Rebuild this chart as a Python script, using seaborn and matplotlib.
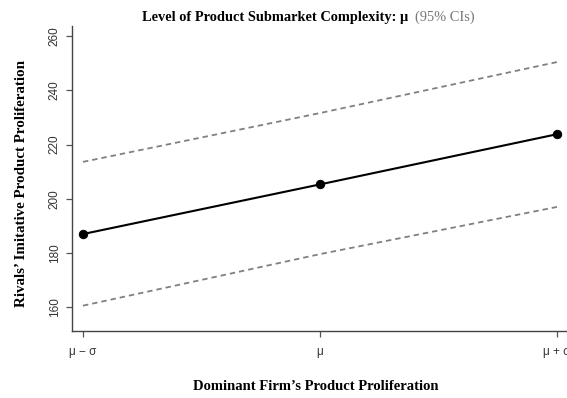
import matplotlib
matplotlib.use("Agg")
import matplotlib.pyplot as plt
import seaborn as sns
import pandas as pd

# Data
x_pos = [1, 2, 3]
x_labels = ["μ − σ", "μ", "μ + σ"]
mean_vals = [187.0, 205.3, 223.8]
upper_vals = [213.6, 231.6, 250.4]
lower_vals = [160.6, 179.6, 197.0]
y_ticks = [160, 180, 200, 220, 240, 260]

sns.set_theme(style="white")
plt.rcParams['font.family'] = ['Liberation Sans', 'DejaVu Sans']

fig = plt.figure(figsize=(5.67, 3.98), dpi=100)
ax = fig.add_axes([72/567, 67/398, (568-72)/567, (331-26)/398])

df = pd.DataFrame({"x": x_pos, "mean": mean_vals, "upper": upper_vals, "lower": lower_vals})

sns.lineplot(data=df, x="x", y="upper", ax=ax, color="#808080", lw=1.3,
             linestyle=(0, (3, 2.2)))
sns.lineplot(data=df, x="x", y="lower", ax=ax, color="#808080", lw=1.3,
             linestyle=(0, (3, 2.2)))
sns.lineplot(data=df, x="x", y="mean", ax=ax, color="black", lw=1.5,
             marker="o", markersize=6, markeredgecolor="black", markerfacecolor="black")

ax.set_xlim(1 - 11/237, 3 + 11/237)
ax.set_ylim(160 - 23.7/2.713, 260 + 10/2.713)
ax.set_xticks(x_pos)
ax.set_xticklabels(x_labels)
ax.set_yticks(y_ticks)
ax.set_yticklabels([str(v) for v in y_ticks], rotation=90, va="center")
ax.set_xlabel("")
ax.set_ylabel("")

for s in ["top", "right"]:
    ax.spines[s].set_visible(False)
for s in ["left", "bottom"]:
    ax.spines[s].set_color("#444444")
    ax.spines[s].set_linewidth(1.0)

ax.tick_params(axis="both", which="both", direction="out", length=4.5, width=0.9,
               color="#555555", labelsize=8.5, labelcolor="#333333")
ax.tick_params(axis="x", pad=6, bottom=True)
ax.tick_params(axis="y", pad=3.5, left=True)

serif = ['Liberation Serif', 'DejaVu Serif']
fig.text(408/567, 1 - 21/398, "Level of Product Submarket Complexity: μ",
         ha="right", va="baseline", fontsize=10.4, fontweight="bold", family=serif, color="black")
fig.text(415/567, 1 - 21/398, "(95% CIs)",
         ha="left", va="baseline", fontsize=10.4, family=serif, color="#777777")
fig.text(316/567, 1 - 386/398, "Dominant Firm\u2019s Product Proliferation",
         ha="center", va="center", fontsize=10.5, fontweight="bold", family=serif, color="black")
fig.text(22/567, 1 - 183.5/398, "Rivals\u2019 Imitative Product Proliferation",
         ha="center", va="center", rotation=90, fontsize=10.8, fontweight="bold", family=serif, color="black")

fig.savefig("out.png", dpi=100)
